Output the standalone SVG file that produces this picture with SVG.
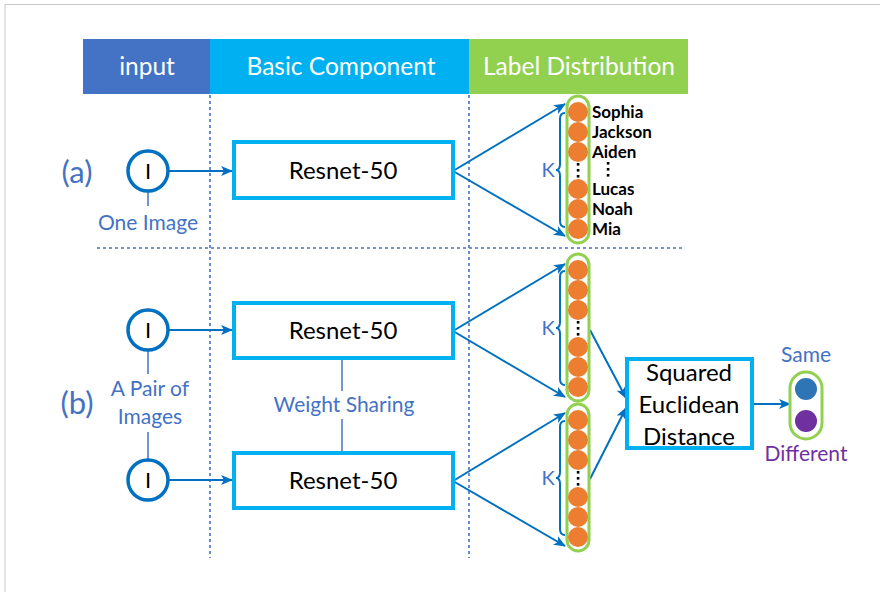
<svg xmlns="http://www.w3.org/2000/svg" width="880" height="592" viewBox="0 0 880 592">
  <style>
    .hdr { font-family: Lato, "Open Sans", sans-serif; font-size: 24.5px; fill: #ffffff; text-anchor: middle; }
    .lbl { font-family: Lato, "Open Sans", sans-serif; fill: #4472c4; text-anchor: middle; }
    .box { fill: #ffffff; stroke: #00b0f0; stroke-width: 4; }
    .boxtxt { font-family: Lato, "Open Sans", sans-serif; font-size: 24px; fill: #000000; text-anchor: middle; }
    .img { fill: #ffffff; stroke: #0070c0; stroke-width: 3.5; }
    .imgtxt { font-family: Lato, "Open Sans", sans-serif; font-size: 22px; fill: #000000; text-anchor: middle; }
    .pill { fill: #ffffff; stroke: #92d050; stroke-width: 3; }
    .unit { fill: #ed7d31; }
    .name { font-family: Lato, "Open Sans", sans-serif; font-size: 17px; font-weight: bold; fill: #000000; }
    .arrow { fill: none; stroke: #0070c0; stroke-width: 2; marker-end: url(#head); }
    .brace { fill: none; stroke: #0070c0; stroke-width: 2; }
    .tie { stroke: #4472c4; stroke-width: 1.5; }
    .sep { stroke: #4472c4; stroke-width: 1.6; stroke-dasharray: 3 3; fill: none; }
  </style>
  <defs>
    <marker id="head" viewBox="0 0 12 10" refX="11" refY="5" markerWidth="12" markerHeight="10" markerUnits="userSpaceOnUse" orient="auto">
      <path d="M0,0 L12,5 L0,10 L3,5 Z" fill="#0070c0"/>
    </marker>
    <!-- a K-unit output column: pill, six units, ellipsis dots and brace -->
    <g id="column">
      <rect class="pill" x="567" y="-6" width="22" height="147" rx="11"/>
      <circle class="unit" cx="578" cy="10" r="10"/>
      <circle class="unit" cx="578" cy="30" r="10"/>
      <circle class="unit" cx="578" cy="50" r="10"/>
      <circle class="unit" cx="578" cy="87" r="10"/>
      <circle class="unit" cx="578" cy="107" r="10"/>
      <circle class="unit" cx="578" cy="127" r="10"/>
      <rect x="576.8" y="61" width="2.6" height="2.6" fill="#000"/>
      <rect x="576.8" y="67" width="2.6" height="2.6" fill="#000"/>
      <rect x="576.8" y="73" width="2.6" height="2.6" fill="#000"/>
      <path class="brace" d="M565,11 Q560,11 560,17 L560,62 Q560,68 556,68 Q560,68 560,74 L560,119 Q560,125 565,125"/>
      <text class="lbl" x="548" y="75" font-size="20">K</text>
    </g>
  </defs>

  <rect width="880" height="592" fill="#ffffff"/>
  <!-- page frame -->
  <path d="M5,592 L5,4.5 L880,4.5" fill="none" stroke="#c8c8c8" stroke-width="1"/>

  <!-- header bands -->
  <g id="header">
    <rect x="83" y="39" width="127" height="55" fill="#4472c4"/>
    <rect x="210" y="39" width="259" height="55" fill="#00b0f0"/>
    <rect x="469" y="39" width="219" height="55" fill="#92d050"/>
    <text class="hdr" x="147" y="75">input</text>
    <text class="hdr" x="341" y="75">Basic Component</text>
    <text class="hdr" x="579" y="75">Label Distribution</text>
  </g>

  <!-- column and row separators -->
  <g id="separators">
    <line class="sep" x1="210" y1="95" x2="210" y2="558"/>
    <line class="sep" x1="469" y1="95" x2="469" y2="558"/>
    <line class="sep" x1="97" y1="248" x2="682" y2="248"/>
  </g>

  <text class="lbl" x="77" y="183" font-size="31">(a)</text>
  <text class="lbl" x="77" y="414" font-size="31">(b)</text>

  <!-- connectors -->
  <g id="connectors">
    <line class="arrow" x1="168" y1="171" x2="232" y2="171"/>
    <line class="arrow" x1="453" y1="171" x2="565" y2="104"/>
    <line class="arrow" x1="453" y1="171" x2="565" y2="236"/>
    <line class="arrow" x1="168" y1="330" x2="232" y2="330"/>
    <line class="arrow" x1="168" y1="480" x2="232" y2="480"/>
    <line class="arrow" x1="453" y1="331" x2="565" y2="264"/>
    <line class="arrow" x1="453" y1="331" x2="565" y2="397"/>
    <line class="arrow" x1="453" y1="481" x2="565" y2="413"/>
    <line class="arrow" x1="453" y1="481" x2="565" y2="546"/>
    <line class="arrow" x1="590" y1="330" x2="626" y2="398"/>
    <line class="arrow" x1="590" y1="479" x2="626" y2="408"/>
    <line class="arrow" x1="752" y1="404" x2="790" y2="404"/>
    <line class="tie" x1="148" y1="191" x2="148" y2="206"/>
    <line class="tie" x1="148" y1="350" x2="148" y2="374"/>
    <line class="tie" x1="148" y1="432" x2="148" y2="460"/>
    <line class="tie" x1="342" y1="358" x2="342" y2="391"/>
    <line class="tie" x1="342" y1="419" x2="342" y2="453"/>
  </g>

  <!-- row (a): single image -->
  <g id="img-a">
    <circle class="img" cx="148" cy="171" r="20"/>
    <text class="imgtxt" x="148" y="179">I</text>
    <text class="lbl" x="148" y="230" font-size="21">One Image</text>
  </g>
  <g id="resnet-a">
    <rect class="box" x="234" y="142" width="219" height="56"/>
    <text class="boxtxt" x="343" y="179">Resnet-50</text>
  </g>
  <g id="labels-a">
    <use href="#column" y="102"/>
    <text class="name" x="592" y="118">Sophia</text>
    <text class="name" x="592" y="138">Jackson</text>
    <text class="name" x="592" y="158">Aiden</text>
    <rect x="606.8" y="162" width="2.6" height="2.6" fill="#000"/>
    <rect x="606.8" y="168" width="2.6" height="2.6" fill="#000"/>
    <rect x="606.8" y="174" width="2.6" height="2.6" fill="#000"/>
    <text class="name" x="592" y="195">Lucas</text>
    <text class="name" x="592" y="215">Noah</text>
    <text class="name" x="592" y="235">Mia</text>
  </g>

  <!-- row (b): image pair -->
  <g id="img-b1">
    <circle class="img" cx="148" cy="330" r="20"/>
    <text class="imgtxt" x="148" y="338">I</text>
  </g>
  <g id="img-b2">
    <circle class="img" cx="148" cy="480" r="20"/>
    <text class="imgtxt" x="148" y="488">I</text>
  </g>
  <text class="lbl" x="150" y="396" font-size="21">A Pair of</text>
  <text class="lbl" x="150" y="424" font-size="21">Images</text>

  <g id="resnet-b1">
    <rect class="box" x="234" y="303" width="219" height="55"/>
    <text class="boxtxt" x="343" y="339">Resnet-50</text>
  </g>
  <g id="resnet-b2">
    <rect class="box" x="234" y="453" width="219" height="55"/>
    <text class="boxtxt" x="343" y="489">Resnet-50</text>
  </g>
  <text class="lbl" x="344" y="412" font-size="21">Weight Sharing</text>

  <g id="labels-b1">
    <use href="#column" y="260"/>
  </g>
  <g id="labels-b2">
    <use href="#column" y="410"/>
  </g>

  <g id="distance">
    <rect class="box" x="627" y="359" width="125" height="89" stroke-width="3.5"/>
    <text class="boxtxt" x="689" y="381">Squared</text>
    <text class="boxtxt" x="689" y="413">Euclidean</text>
    <text class="boxtxt" x="689" y="445">Distance</text>
  </g>

  <g id="verdict">
    <rect class="pill" x="790" y="372" width="32" height="67" rx="16"/>
    <circle cx="806" cy="389" r="11" fill="#2e75b6"/>
    <circle cx="806" cy="421" r="11" fill="#7030a0"/>
    <text class="lbl" x="806" y="362" font-size="21">Same</text>
    <text class="lbl" x="806" y="461" font-size="21" style="fill:#7030a0">Different</text>
  </g>
</svg>
